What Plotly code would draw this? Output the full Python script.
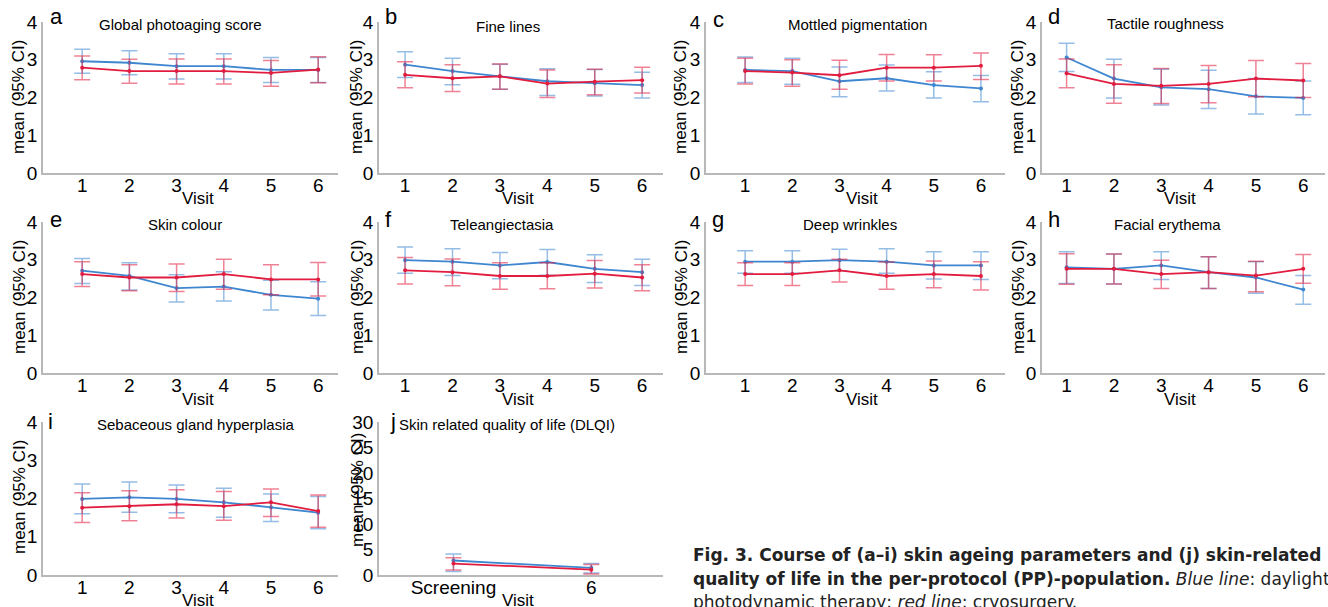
import plotly.graph_objects as go

W, H = 1328, 607

visits = [1, 2, 3, 4, 5, 6]
dlqi_visits = ["Screening", "6"]

titles = ["Global photoaging score", "Fine lines", "Mottled pigmentation", "Tactile roughness",
          "Skin colour", "Teleangiectasia", "Deep wrinkles", "Facial erythema",
          "Sebaceous gland hyperplasia", "Skin related quality of life (DLQI)"]
letters = ["a", "b", "c", "d", "e", "f", "g", "h", "i", "j"]

# ---- values (blue = daylight PDT, red = cryosurgery) ----
a_blue = [2.96, 2.92, 2.83, 2.83, 2.73, 2.73]
a_blue_lo = [2.64, 2.60, 2.49, 2.49, 2.40, 2.40]
a_blue_hi = [3.28, 3.24, 3.16, 3.16, 3.06, 3.06]
a_red = [2.79, 2.70, 2.70, 2.70, 2.65, 2.74]
a_red_lo = [2.47, 2.38, 2.36, 2.36, 2.30, 2.39]
a_red_hi = [3.10, 3.01, 3.02, 3.02, 2.98, 3.08]

b_blue = [2.87, 2.70, 2.56, 2.43, 2.38, 2.33]
b_blue_lo = [2.53, 2.34, 2.22, 2.05, 2.04, 1.99]
b_blue_hi = [3.21, 3.04, 2.88, 2.76, 2.74, 2.67]
b_red = [2.60, 2.51, 2.56, 2.37, 2.42, 2.46]
b_red_lo = [2.26, 2.16, 2.22, 2.00, 2.07, 2.12]
b_red_hi = [2.95, 2.87, 2.89, 2.73, 2.75, 2.80]

c_blue = [2.73, 2.70, 2.43, 2.51, 2.33, 2.24]
c_blue_lo = [2.40, 2.35, 2.02, 2.17, 1.99, 1.89]
c_blue_hi = [3.07, 3.04, 2.81, 2.86, 2.68, 2.58]
c_red = [2.70, 2.66, 2.59, 2.79, 2.79, 2.84]
c_red_lo = [2.36, 2.30, 2.22, 2.44, 2.44, 2.48]
c_red_hi = [3.04, 3.00, 2.99, 3.14, 3.13, 3.18]

d_blue = [3.06, 2.50, 2.27, 2.22, 2.03, 1.99]
d_blue_lo = [2.69, 1.99, 1.80, 1.71, 1.56, 1.54]
d_blue_hi = [3.44, 3.01, 2.75, 2.72, 2.50, 2.44]
d_red = [2.64, 2.36, 2.31, 2.36, 2.50, 2.45]
d_red_lo = [2.26, 1.85, 1.84, 1.86, 2.02, 2.00]
d_red_hi = [3.02, 2.87, 2.77, 2.85, 2.98, 2.90]

e_blue = [2.71, 2.57, 2.25, 2.29, 2.07, 1.97]
e_blue_lo = [2.37, 2.20, 1.88, 1.91, 1.67, 1.52]
e_blue_hi = [3.03, 2.92, 2.60, 2.68, 2.46, 2.42]
e_red = [2.62, 2.53, 2.53, 2.62, 2.48, 2.48]
e_red_lo = [2.29, 2.18, 2.16, 2.22, 2.07, 2.04]
e_red_hi = [2.95, 2.87, 2.89, 3.01, 2.87, 2.93]

f_blue = [2.99, 2.95, 2.85, 2.94, 2.76, 2.67]
f_blue_lo = [2.64, 2.58, 2.50, 2.59, 2.40, 2.32]
f_blue_hi = [3.34, 3.29, 3.19, 3.27, 3.13, 3.01]
f_red = [2.72, 2.67, 2.57, 2.57, 2.63, 2.53]
f_red_lo = [2.36, 2.31, 2.22, 2.23, 2.25, 2.18]
f_red_hi = [3.06, 3.02, 2.92, 2.92, 2.98, 2.87]

g_blue = [2.95, 2.95, 2.99, 2.95, 2.85, 2.85]
g_blue_lo = [2.64, 2.64, 2.71, 2.64, 2.49, 2.48]
g_blue_hi = [3.24, 3.24, 3.28, 3.29, 3.21, 3.21]
g_red = [2.62, 2.62, 2.72, 2.57, 2.62, 2.57]
g_red_lo = [2.32, 2.32, 2.41, 2.22, 2.26, 2.20]
g_red_hi = [2.92, 2.92, 3.01, 2.94, 2.97, 2.95]

h_blue = [2.80, 2.76, 2.85, 2.67, 2.53, 2.21]
h_blue_lo = [2.37, 2.36, 2.48, 2.24, 2.11, 1.82]
h_blue_hi = [3.21, 3.15, 3.21, 3.08, 2.95, 2.58]
h_red = [2.76, 2.76, 2.62, 2.67, 2.58, 2.76]
h_red_lo = [2.35, 2.36, 2.24, 2.24, 2.15, 2.38]
h_red_hi = [3.16, 3.15, 2.99, 3.08, 2.96, 3.14]

i_blue = [1.99, 2.03, 1.99, 1.90, 1.77, 1.63]
i_blue_lo = [1.60, 1.64, 1.63, 1.51, 1.40, 1.21]
i_blue_hi = [2.38, 2.43, 2.35, 2.27, 2.12, 2.05]
i_red = [1.76, 1.80, 1.85, 1.80, 1.90, 1.67]
i_red_lo = [1.37, 1.42, 1.49, 1.43, 1.53, 1.25]
i_red_hi = [2.15, 2.20, 2.23, 2.18, 2.25, 2.09]

j_blue = [2.84, 1.40]
j_blue_lo = [0.70, 0.40]
j_blue_hi = [4.10, 2.25]
j_red = [2.25, 1.05]
j_red_lo = [1.00, 0.20]
j_red_hi = [3.40, 2.05]

blue_series = [(a_blue, a_blue_lo, a_blue_hi), (b_blue, b_blue_lo, b_blue_hi),
               (c_blue, c_blue_lo, c_blue_hi), (d_blue, d_blue_lo, d_blue_hi),
               (e_blue, e_blue_lo, e_blue_hi), (f_blue, f_blue_lo, f_blue_hi),
               (g_blue, g_blue_lo, g_blue_hi), (h_blue, h_blue_lo, h_blue_hi),
               (i_blue, i_blue_lo, i_blue_hi), (j_blue, j_blue_lo, j_blue_hi)]
red_series = [(a_red, a_red_lo, a_red_hi), (b_red, b_red_lo, b_red_hi),
              (c_red, c_red_lo, c_red_hi), (d_red, d_red_lo, d_red_hi),
              (e_red, e_red_lo, e_red_hi), (f_red, f_red_lo, f_red_hi),
              (g_red, g_red_lo, g_red_hi), (h_red, h_red_lo, h_red_hi),
              (i_red, i_red_lo, i_red_hi), (j_red, j_red_lo, j_red_hi)]

# ---- layout geometry (pixels) ----
cols = [
    dict(l=43, r=338, xr=[0.17, 6.42]),
    dict(l=379, r=663, xr=[0.45, 6.44]),
    dict(l=706, r=1005, xr=[0.17, 6.51]),
    dict(l=1042, r=1325, xr=[0.48, 6.46]),
]
rows = [dict(top=22, bot=173), dict(top=222, bot=373), dict(top=422, bot=575)]

title_pos = [(180, 25), (508, 26), (857, 25), (1165, 24),
             (185, 224), (502, 224), (850, 224), (1167, 224),
             (195, 424), (507, 424)]
letter_pos = [(48, 17), (383, 17), (711, 19), (1046, 17),
              (48, 219), (383, 219), (710, 219), (1046, 219),
              (46, 421), (388, 421)]
visit_x = [198, 518, 862, 1180]
visit_y = [199, 400, 600]
ylab_x = [19, 357, 681, 1018]
ylab_y = [97, 297, 497]

BLUE = "rgb(62,134,208)"
RED = "rgb(226,28,62)"
BLUE_E = "rgba(62,134,208,0.55)"
RED_E = "rgba(226,28,62,0.55)"
FONT = "Liberation Sans, Arial, sans-serif"

fig = go.Figure()
annotations = []


def px_x(v):
    return v / W


def px_y(v):
    return 1 - v / H


for k in range(10):
    r, c = divmod(k, 4)
    col = cols[c]
    row = rows[r]
    ax = "" if k == 0 else str(k + 1)
    xref = "x" + ax
    yref = "y" + ax
    is_j = (k == 9)
    xs = dlqi_visits if is_j else visits
    for (m, lo, hi), color, ecolor in [(blue_series[k], BLUE, BLUE_E), (red_series[k], RED, RED_E)]:
        fig.add_trace(go.Scatter(
            x=xs, y=m, xaxis=xref, yaxis=yref, mode="lines+markers",
            line=dict(color=color, width=1.8), marker=dict(color=color, size=4),
            error_y=dict(type="data", symmetric=False,
                         array=[h - v for h, v in zip(hi, m)],
                         arrayminus=[v - l for v, l in zip(m, lo)],
                         color=ecolor, thickness=1.5, width=8),
            showlegend=False, hoverinfo="skip"))
    if is_j:
        xaxis = dict(type="category", range=[-0.54, 1.52])
        yaxis = dict(range=[0, 30], tickvals=[0, 5, 10, 15, 20, 25, 30])
    else:
        xaxis = dict(range=col["xr"], tickvals=visits)
        yaxis = dict(range=[0, 4], tickvals=[0, 1, 2, 3, 4])
    common = dict(showline=True, linecolor="#b8b8b8", linewidth=1.5, showgrid=False,
                  zeroline=False, ticks="", automargin=False,
                  tickfont=dict(family=FONT, size=19, color="black"))
    xaxis.update(common)
    yaxis.update(common)
    xaxis.update(domain=[px_x(col["l"]), px_x(col["r"])], anchor=yref, ticklabelstandoff=-6)
    yaxis.update(domain=[px_y(row["bot"]), px_y(row["top"])], anchor=xref, ticklabelstandoff=0)
    fig.update_layout(**{"xaxis" + ax: xaxis, "yaxis" + ax: yaxis})

    tx, ty = title_pos[k]
    annotations.append(dict(text=titles[k], x=px_x(tx), y=px_y(ty), xref="paper", yref="paper",
                            showarrow=False, xanchor="center", yanchor="middle",
                            font=dict(family=FONT, size=15, color="black")))
    lx, ly = letter_pos[k]
    annotations.append(dict(text=letters[k], x=px_x(lx), y=px_y(ly), xref="paper", yref="paper",
                            showarrow=False, xanchor="left", yanchor="middle",
                            font=dict(family=FONT, size=22, color="black")))
    annotations.append(dict(text="Visit", x=px_x(visit_x[c]), y=px_y(visit_y[r]), xref="paper",
                            yref="paper", showarrow=False, xanchor="center", yanchor="middle",
                            font=dict(family=FONT, size=17, color="black")))
    yly = 490 if is_j else ylab_y[r]
    annotations.append(dict(text="mean (95% CI)", x=px_x(ylab_x[c]), y=px_y(yly), xref="paper",
                            yref="paper", showarrow=False, xanchor="center", yanchor="middle",
                            textangle=-90, font=dict(family=FONT, size=17, color="black")))

CAP_FONT = "DejaVu Sans, Verdana, sans-serif"
caption_lines = [
    "<b>Fig. 3. Course of (a\u2013i) skin ageing parameters and (j) skin-related</b>",
    "<b>quality of life in the per-protocol (PP)-population.</b> <i>Blue line</i>: daylight",
    "photodynamic therapy; <i>red line</i>: cryosurgery.",
]
cap_y = [555, 579, 602]
for t, yy in zip(caption_lines, cap_y):
    annotations.append(dict(text=t, x=px_x(691), y=px_y(yy), xref="paper", yref="paper",
                            showarrow=False, xanchor="left", yanchor="middle",
                            font=dict(family=CAP_FONT, size=17, color="#222")))

fig.update_layout(width=W, height=H, autosize=False,
                  margin=dict(l=0, r=0, t=0, b=0, pad=0, autoexpand=False),
                  paper_bgcolor="white", plot_bgcolor="white", annotations=annotations)

fig.write_html("out.html", config={"displayModeBar": False},
               post_script="document.body.style.margin='0';document.body.style.overflow='hidden';")
